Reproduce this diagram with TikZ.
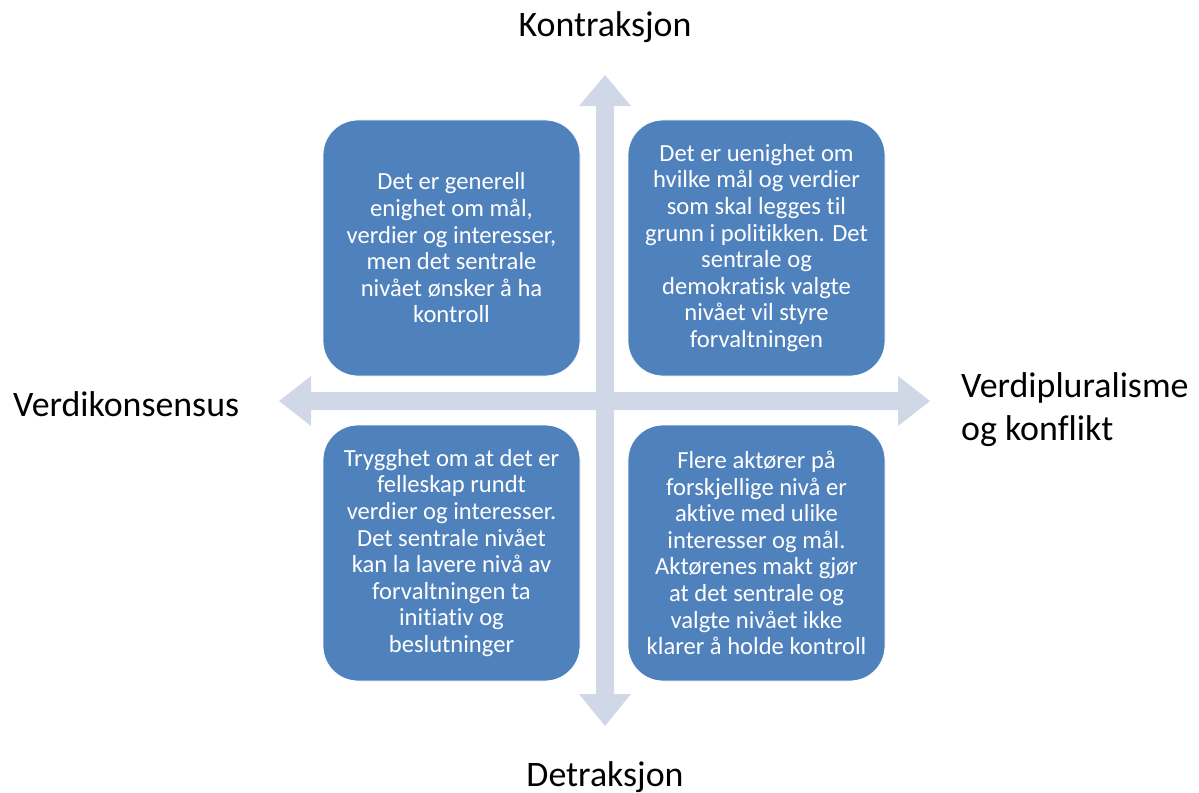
\documentclass[tikz,border=0pt]{standalone}
\usepackage{fontspec}
\setmainfont{Carlito}[Ligatures=NoCommon]
\definecolor{axisblue}{HTML}{D0D8E8}
\definecolor{cellblue}{HTML}{4F81BD}
\begin{document}
\begin{tikzpicture}[x=1bp,y=-1bp,
  cell/.style={rectangle, rounded corners=35bp, fill=cellblue, draw=white,
    line width=0.8bp, minimum width=257bp, minimum height=256bp,
    text=white, align=center, inner sep=0pt,
    font=\fontsize{24.7}{26.7}\selectfont},
  axislabel/.style={text=black, inner sep=0pt,
    font=\fontsize{36}{43}\selectfont}]
\useasboundingbox (0,0) rectangle (1199,793);

% axes: vertical and horizontal double-headed arrows
\fill[axisblue] (605,75) -- (631,106) -- (614,106) -- (614,694) -- (631,694)
  -- (605,726) -- (579,694) -- (596,694) -- (596,106) -- (579,106) -- cycle;
\fill[axisblue] (279,401) -- (311,376) -- (311,392) -- (898,392) -- (898,376)
  -- (930,401) -- (898,426) -- (898,410) -- (311,410) -- (311,426) -- cycle;

% quadrant cells
\node[cell] (tl) at (451.5,248) {Det er generell\\enighet om mål,\\verdier og interesser,\\men det sentrale\\nivået ønsker å ha\\kontroll};
\node[cell] (tr) at (756.5,248) {Det er uenighet om\\hvilke mål og verdier\\som skal legges til\\grunn i politikken. Det\\sentrale og\\demokratisk valgte\\nivået vil styre\\forvaltningen};
\node[cell] (bl) at (451.5,553) {Trygghet om at det er\\felleskap rundt\\verdier og interesser.\\Det sentrale nivået\\kan la lavere nivå av\\forvaltningen ta\\initiativ og\\beslutninger};
\node[cell] (br) at (756.5,553) {Flere aktører på\\forskjellige nivå er\\aktive med ulike\\interesser og mål.\\Aktørenes makt gjør\\at det sentrale og\\valgte nivået ikke\\klarer å holde kontroll};

% axis labels
\node[axislabel, anchor=base] (top) at (605,37) {Kontraksjon};
\node[axislabel, anchor=base] (bottom) at (605,786) {Detraksjon};
\node[axislabel, anchor=base west] (left) at (13,416) {Verdikonsensus};
\node[axislabel, anchor=base west, align=left] (right) at (961,440) {Verdipluralisme\\og konflikt};
\end{tikzpicture}
\end{document}
